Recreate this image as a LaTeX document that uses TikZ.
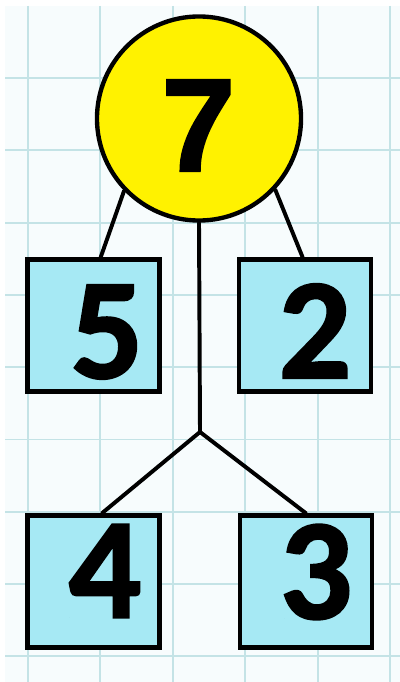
\documentclass[tikz,border=0pt]{standalone}
\usepackage{fontspec}
\newfontfamily\digitfont{Carlito}[BoldFeatures={FakeBold=1.6}]
\newfontfamily\topfont{Liberation Sans}[BoldFeatures={FakeBold=1.8}]
\usetikzlibrary{positioning}
\definecolor{paper}{HTML}{F7FCFD}
\definecolor{gridcyan}{HTML}{C4E3E6}
\definecolor{sunyellow}{HTML}{FFF200}
\definecolor{boxcyan}{HTML}{A6E9F4}

\begin{document}
\begin{tikzpicture}[x=0.025cm,y=-0.025cm,
  part/.style={draw=black,line width=3.1pt,fill=boxcyan,rectangle,minimum size=3.3cm,inner sep=0pt},
  whole/.style={draw=black,line width=3.1pt,fill=sunyellow,circle,minimum size=5.1cm,inner sep=0pt},
  digit/.style={inner sep=0pt,font=\digitfont\bfseries\fontsize{102}{102}\selectfont},
  link/.style={draw=black,line width=2.8pt,line cap=round}]
  % squared paper
  \useasboundingbox (0,0) rectangle (400,682);
  \fill[white] (0,0) rectangle (400,682);
  \fill[paper] (5,6) rectangle (400,682);
  \foreach \i in {0,...,5} \draw[gridcyan,line width=1.4pt] (28+72.4*\i,6) -- (28+72.4*\i,682);
  \foreach \j in {0,...,8} \draw[gridcyan,line width=1.4pt] (5,78+72.3*\j) -- (400,78+72.3*\j);
  % number tree
  \node[whole] (c7) at (199,118.5) {};
  \node[part] (b5) at (93.5,325.5) {};
  \node[part] (b2) at (305,325.5) {};
  \node[part] (b4) at (93.5,581.5) {};
  \node[part] (b3) at (306,581.5) {};
  \coordinate (fork) at (200,432);
  \draw[link] (c7.224) -- (b5.84);
  \draw[link] (c7.317) -- (b2.92);
  \draw[link] (c7.south) -- (fork);
  \draw[link] (fork) -- (b4.83);
  \draw[link] (fork) -- (b3.north);
  \node[inner sep=0pt,font=\topfont\bfseries\fontsize{94}{94}\selectfont] (n7) at (198.5,125.5) {7};
  \node[digit] (n5) at (107,332) {5};
  \node[digit] (n2) at (315,331) {2};
  \node[digit] (n4) at (105,571) {4};
  \node[digit] (n3) at (316,572) {3};
\end{tikzpicture}
\end{document}
